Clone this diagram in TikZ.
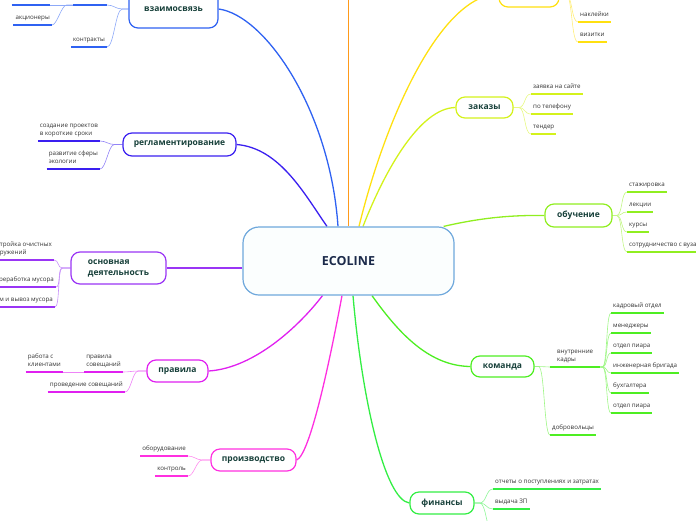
\documentclass[tikz,border=0pt]{standalone}
\usepackage{fontspec}
\setmainfont{Open Sans}
\usepackage{tikz}
\usetikzlibrary{backgrounds}
\definecolor{rootc}{HTML}{6FA8DC}
\definecolor{rootbg}{HTML}{FBFEFE}
\definecolor{rootfg}{HTML}{1B2A4A}
\definecolor{ttl}{HTML}{17403A}
\definecolor{lf}{HTML}{333333}
\definecolor{cvz}{HTML}{2F62F2}
\definecolor{creg}{HTML}{3A1FF0}
\definecolor{cod}{HTML}{9A35F5}
\definecolor{cpr}{HTML}{E020F0}
\definecolor{cprod}{HTML}{FF30E0}
\definecolor{cfin}{HTML}{33EE44}
\definecolor{ckom}{HTML}{4EEE22}
\definecolor{cobu}{HTML}{90EE20}
\definecolor{czak}{HTML}{D4F21C}
\definecolor{cyel}{HTML}{FFE010}
\definecolor{corn}{HTML}{FF9A1A}

\begin{document}
\begin{tikzpicture}[x=1pt,y=-1pt,
  root/.style={draw=rootc,fill=rootbg,line width=1.2pt,rounded corners=16pt,
               minimum width=211pt,minimum height=68pt,text=rootfg,
               font=\fontsize{12.5}{15}\selectfont\bfseries},
  topic/.style={draw=#1,fill=white,line width=1.2pt,rounded corners=9pt,
                text=ttl,align=left,inner sep=2pt,
                font=\fontsize{8.5}{11}\selectfont\bfseries},
  leaf/.style={text=lf,align=left,inner xsep=2pt,inner ysep=1pt,
               text depth=4.3pt,font=\fontsize{6.2}{8.5}\selectfont},
  br/.style={draw=#1,line width=1.3pt},
  tw/.style={draw=#1!55,line width=0.6pt},
  ul/.style={draw=#1,line width=1.8pt}]

\useasboundingbox (0,0) rectangle (696,520);

% centre and main topics
\node[root] (eco) at (348.5,261) {ECOLINE};
\coordinate (orn) at (348.5,-30);

\node[topic=cvz,minimum width=89pt,minimum height=38pt] (vz) at (173.5,9) {взаимосвязь};
\node[topic=creg,minimum width=113pt,minimum height=23pt] (reg) at (179.5,144.5) {регламентирование};
\node[topic=cod,minimum width=95pt,minimum height=32pt] (od) at (118.5,268) {основная\\деятельность};
\node[topic=cpr,minimum width=61pt,minimum height=22pt] (pr) at (177.5,371) {правила};
\node[topic=cprod,minimum width=85pt,minimum height=22pt] (prod) at (253.5,460) {производство};
\node[topic=cyel,minimum width=60pt,minimum height=26pt] (yel) at (529,-6) {};
\node[topic=czak,minimum width=57pt,minimum height=21pt] (zak) at (484.5,107.5) {заказы};
\node[topic=cobu,minimum width=67pt,minimum height=23pt] (obu) at (578.5,215.5) {обучение};
\node[topic=ckom,minimum width=63pt,minimum height=21pt] (kom) at (502.5,366.5) {команда};
\node[topic=cfin,minimum width=64pt,minimum height=22pt] (fin) at (442,503) {финансы};

% left leaves
\node[leaf,anchor=south east,minimum width=34pt] (va) at (107,5) {};
\node[leaf,anchor=south east,minimum width=38pt] (vb) at (50,5) {};
\node[leaf,anchor=south east] (v1) at (107,47) {контракты};
\node[leaf,anchor=south east] (v2) at (52,25) {акционеры};

\node[leaf,anchor=south east] (r1) at (100,141) {создание проектов\\в короткие сроки};
\node[leaf,anchor=south east] (r2) at (100,169) {развитие сферы\\экологии};

\node[leaf,anchor=south east] (d1) at (54,260) {постройка очистных\\сооружений};
\node[leaf,anchor=south east] (d2) at (56,287) {переработка мусора};
\node[leaf,anchor=south east] (d3) at (55,307) {прием и вывоз мусора};

\node[leaf,anchor=south east] (p1) at (123,372) {правила\\совещаний};
\node[leaf,anchor=south east] (p2) at (63,372) {работа с\\клиентами};
\node[leaf,anchor=south east] (p3) at (125,392) {проведение совещаний};

\node[leaf,anchor=south east] (q1) at (188,456) {оборудование};
\node[leaf,anchor=south east] (q2) at (188,476) {контроль};

% right leaves
\node[leaf,anchor=south west] (y1) at (578,22) {наклейки};
\node[leaf,anchor=south west] (y2) at (578,42) {визитки};

\node[leaf,anchor=south west] (z1) at (531,94) {заявка на сайте};
\node[leaf,anchor=south west] (z2) at (531,114) {по телефону};
\node[leaf,anchor=south west] (z3) at (531,134) {тендер};

\node[leaf,anchor=south west] (o1) at (627,192) {стажировка};
\node[leaf,anchor=south west] (o2) at (627,212) {лекции};
\node[leaf,anchor=south west] (o3) at (627,232) {курсы};
\node[leaf,anchor=south west] (o4) at (627,252) {сотрудничество с вузами};

\node[leaf,anchor=south west,minimum width=50pt] (k1) at (550,367) {внутренние\\кадры};
\node[leaf,anchor=south west] (k2) at (550,435) {добровольцы};
\node[leaf,anchor=south west] (s1) at (611,313) {кадровый отдел};
\node[leaf,anchor=south west] (s2) at (611,333) {менеджеры};
\node[leaf,anchor=south west] (s3) at (611,353) {отдел пиара};
\node[leaf,anchor=south west] (s4) at (611,373) {инженерная бригада};
\node[leaf,anchor=south west] (s5) at (611,393) {бухгалтера};
\node[leaf,anchor=south west] (s6) at (611,413) {отдел пиара};

\node[leaf,anchor=south west] (f1) at (493,489) {отчеты о поступлениях и затратах};
\node[leaf,anchor=south west] (f2) at (493,509) {выдача ЗП};
\coordinate (f3) at (493,532);

% underlines
\foreach \n/\c in {va/cvz,vb/cvz,v1/cvz,v2/cvz,r1/creg,r2/creg,
    d1/cod,d2/cod,d3/cod,p1/cpr,p2/cpr,p3/cpr,q1/cprod,q2/cprod,
    y1/cyel,y2/cyel,z1/czak,z2/czak,z3/czak,o1/cobu,o2/cobu,o3/cobu,o4/cobu,
    k1/ckom,k2/ckom,s1/ckom,s2/ckom,s3/ckom,s4/ckom,s5/ckom,s6/ckom,
    f1/cfin,f2/cfin}
  \draw[ul=\c] (\n.south west) -- (\n.south east);

\begin{scope}[on background layer]
% main branches
\draw[br=corn] (eco.north) -- (orn);
\draw[br=cvz] ([xshift=-10.5pt]eco.north) .. controls (330,110) and (265,15) .. (vz.east);
\draw[br=creg] ([xshift=-21.5pt]eco.north) .. controls (305,195) and (280,148) .. (reg.east);
\draw[br=cyel] ([xshift=10.5pt]eco.north) .. controls (385,120) and (440,-5) .. (yel.west);
\draw[br=czak] ([xshift=14.5pt]eco.north) .. controls (385,170) and (420,108) .. (zak.west);
\draw[br=cobu] ([xshift=-11pt]eco.north east) .. controls (480,218) and (510,215) .. (obu.west);
\draw[br=cod] (eco.west |- od.east) -- (od.east);
\draw[br=cpr] ([xshift=-26pt]eco.south) .. controls (300,325) and (255,368) .. (pr.east);
\draw[br=cprod] ([xshift=-6.5pt]eco.south) .. controls (330,360) and (310,455) .. (prod.east);
\draw[br=cfin] ([xshift=4.5pt]eco.south) .. controls (362,400) and (385,500) .. (fin.west);
\draw[br=ckom] ([xshift=23.5pt]eco.south) .. controls (400,335) and (430,366) .. (kom.west);

% twigs, left
\draw[tw=cvz] (vz.west) -- ++(-6,0) .. controls +(-7,0) and +(7,0) .. (va.south east);
\draw[tw=cvz] (vz.west) -- ++(-6,0) .. controls +(-7,0) and +(7,0) .. (v1.south east);
\draw[tw=cvz] (va.south west) -- (vb.south east);
\draw[tw=cvz] (va.south west) -- ++(-6,0) .. controls +(-5,0) and +(5,0) .. (v2.south east);
\draw[tw=creg] (reg.west) -- ++(-8,0) .. controls +(-6,0) and +(6,0) .. (r1.south east);
\draw[tw=creg] (reg.west) -- ++(-8,0) .. controls +(-6,0) and +(6,0) .. (r2.south east);
\draw[tw=cod] (od.west) -- ++(-8,0) .. controls +(-5,0) and +(5,0) .. (d1.south east);
\draw[tw=cod] (od.west) -- ++(-8,0) .. controls +(-5,0) and +(5,0) .. (d2.south east);
\draw[tw=cod] (od.west) -- ++(-8,0) .. controls +(-5,0) and +(5,0) .. (d3.south east);
\draw[tw=cpr] (pr.west) -- ++(-8,0) .. controls +(-6,0) and +(6,0) .. (p1.south east);
\draw[tw=cpr] (pr.west) -- ++(-8,0) .. controls +(-6,0) and +(6,0) .. (p3.south east);
\draw[tw=cpr] (p1.south west) -- (p2.south east);
\draw[tw=cprod] (prod.west) -- ++(-8,0) .. controls +(-6,0) and +(6,0) .. (q1.south east);
\draw[tw=cprod] (prod.west) -- ++(-8,0) .. controls +(-6,0) and +(6,0) .. (q2.south east);

% twigs, right
\draw[tw=cyel] (yel.east) -- ++(6,0) .. controls +(7,0) and +(-7,0) .. (y1.south west);
\draw[tw=cyel] (yel.east) -- ++(6,0) .. controls +(7,0) and +(-7,0) .. (y2.south west);
\draw[tw=czak] (zak.east) -- ++(5,0) .. controls +(7,0) and +(-7,0) .. (z1.south west);
\draw[tw=czak] (zak.east) -- ++(5,0) .. controls +(7,0) and +(-7,0) .. (z2.south west);
\draw[tw=czak] (zak.east) -- ++(5,0) .. controls +(7,0) and +(-7,0) .. (z3.south west);
\draw[tw=cobu] (obu.east) -- ++(4,0) .. controls +(6,0) and +(-6,0) .. (o1.south west);
\draw[tw=cobu] (obu.east) -- ++(4,0) .. controls +(6,0) and +(-6,0) .. (o2.south west);
\draw[tw=cobu] (obu.east) -- ++(4,0) .. controls +(6,0) and +(-6,0) .. (o3.south west);
\draw[tw=cobu] (obu.east) -- ++(4,0) .. controls +(6,0) and +(-6,0) .. (o4.south west);
\draw[tw=ckom] (kom.east) -- ++(4,0) .. controls +(6,0) and +(-6,0) .. (k1.south west);
\draw[tw=ckom] (kom.east) -- ++(4,0) .. controls +(6,0) and +(-6,0) .. (k2.south west);
\foreach \n in {s1,s2,s3,s4,s5,s6}
  \draw[tw=ckom] (k1.south east) -- ++(2,0) .. controls +(5,0) and +(-5,0) .. (\n.south west);
\draw[tw=cfin] (fin.east) -- ++(5,0) .. controls +(7,0) and +(-7,0) .. (f1.south west);
\draw[tw=cfin] (fin.east) -- ++(5,0) .. controls +(7,0) and +(-7,0) .. (f2.south west);
\draw[tw=cfin] (fin.east) -- ++(5,0) .. controls +(7,0) and +(-7,0) .. (f3);
\end{scope}
\end{tikzpicture}
\end{document}
